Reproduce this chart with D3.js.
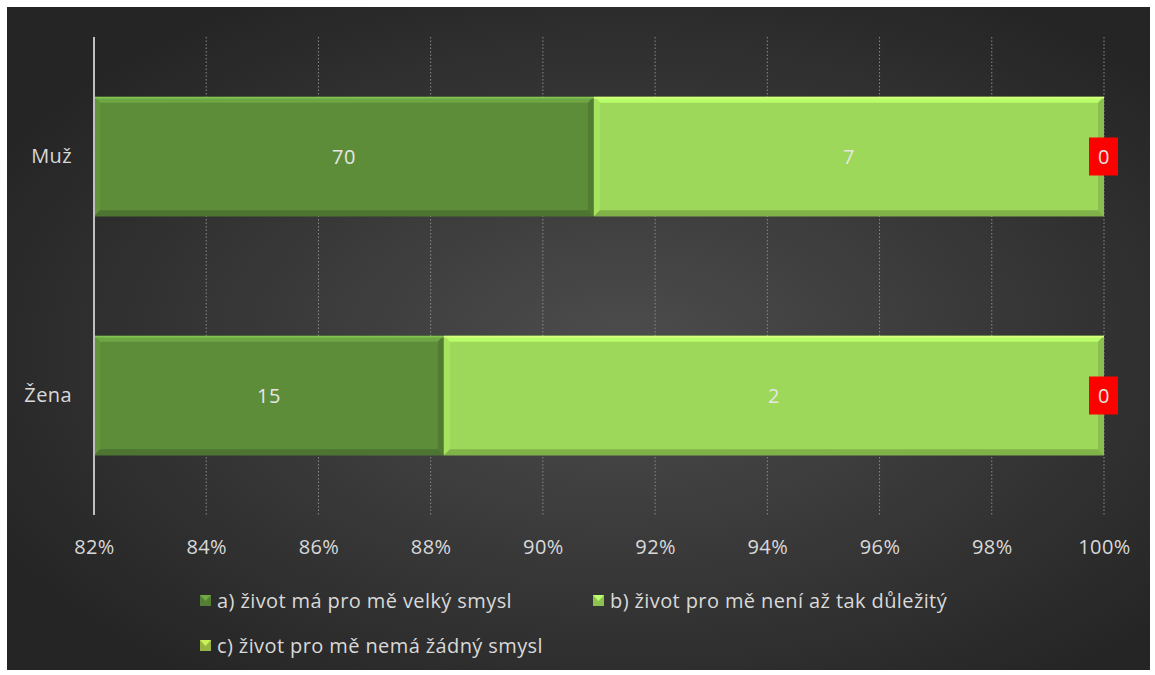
<!DOCTYPE html>
<html>
<head>
<meta charset="utf-8">
<script src="https://cdn.jsdelivr.net/npm/d3@7"></script>
<style>
  html, body { margin: 0; padding: 0; background: #ffffff; }
  svg { display: block; }
  text { font-family: "Open Sans", "Noto Sans", sans-serif; letter-spacing: 0.4px; }
</style>
</head>
<body>
<svg id="chart" width="1155" height="675"></svg>
<script>
// Respondent counts per gender and answer
const categories = ["Muž", "Žena"];
const seriesNames = [
  "a) život má pro mě velký smysl",
  "b) život pro mě není až tak důležitý",
  "c) život pro mě nemá žádný smysl"
];
const seriesA = [70, 15];
const seriesB = [7, 2];
const seriesC = [0, 0];
const seriesColors = ["#5e8d3a", "#9dd85a", "#a9c94b"];
const tickValues = [0.82, 0.84, 0.86, 0.88, 0.90, 0.92, 0.94, 0.96, 0.98, 1.00];

const svg = d3.select("#chart");
const FS = 20;

// panel background with radial glow
const defs = svg.append("defs");
const rg = defs.append("radialGradient").attr("id", "bg")
  .attr("cx", "54%").attr("cy", "52%").attr("r", "62%");
rg.append("stop").attr("offset", "0%").attr("stop-color", "#4d4d4d");
rg.append("stop").attr("offset", "100%").attr("stop-color", "#252525");
svg.append("rect").attr("x", 7).attr("y", 7).attr("width", 1143).attr("height", 663)
  .attr("fill", "url(#bg)");

const margin = { left: 94, right: 1104, top: 37, bottom: 515 };

const x = d3.scaleLinear().domain([0.82, 1.0]).range([margin.left, margin.right]);
const y = d3.scaleBand().domain(categories).range([margin.top, margin.bottom])
  .paddingInner(0.5).paddingOuter(0.25);

// stacked proportions
const rows = categories.map((c, i) => ({ cat: c, vals: [seriesA[i], seriesB[i], seriesC[i]] }));
const segs = [];
rows.forEach(r => {
  const total = d3.sum(r.vals);
  let acc = 0;
  r.vals.forEach((v, k) => {
    const x0 = acc / total; acc += v;
    segs.push({ cat: r.cat, k, v, x0, x1: acc / total });
  });
});

// gridlines
const grid = svg.append("g");
tickValues.slice(1).forEach(t => {
  grid.append("line")
    .attr("x1", x(t)).attr("x2", x(t)).attr("y1", margin.top).attr("y2", margin.bottom)
    .attr("stroke", "#8a8a8a").attr("stroke-width", 1).attr("stroke-dasharray", "1.5,2");
});

// x-axis tick labels
const xAxis = d3.axisBottom(x).tickValues(tickValues).tickSize(0)
  .tickFormat(d => Math.round(d * 100) + "%");
const gx = svg.append("g").attr("transform", `translate(0,${margin.bottom + 19})`).call(xAxis);
gx.select(".domain").remove();
gx.selectAll("text").attr("fill", "#d9d9d9").attr("font-size", FS).attr("dy", "0.85em");

// category labels
const yAxis = d3.axisLeft(y).tickSize(0).tickPadding(22);
const gy = svg.append("g").attr("transform", `translate(${margin.left},0)`).call(yAxis);
gy.select(".domain").remove();
gy.selectAll("text").attr("fill", "#d9d9d9").attr("font-size", FS);

// bars with bevelled edges
const bevel = 6;
const barG = svg.append("g");
segs.filter(s => s.v > 0).forEach(s => {
  const x0 = x(Math.max(s.x0, 0.82)), x1 = x(s.x1);
  const y0 = y(s.cat), y1 = y0 + y.bandwidth();
  const base = d3.color(seriesColors[s.k]);
  const g = barG.append("g");
  g.append("rect").attr("x", x0).attr("y", y0).attr("width", x1 - x0).attr("height", y1 - y0)
    .attr("fill", base);
  const poly = (pts, fill) => g.append("polygon").attr("points", pts.map(p => p.join(",")).join(" ")).attr("fill", fill);
  poly([[x0, y0], [x1, y0], [x1 - bevel, y0 + bevel], [x0 + bevel, y0 + bevel]], base.brighter(0.45));
  poly([[x0, y0], [x0 + bevel, y0 + bevel], [x0 + bevel, y1 - bevel], [x0, y1]], base.brighter(0.15));
  poly([[x1, y0], [x1, y1], [x1 - bevel, y1 - bevel], [x1 - bevel, y0 + bevel]], base.darker(0.35));
  poly([[x0, y1], [x0 + bevel, y1 - bevel], [x1 - bevel, y1 - bevel], [x1, y1]], base.darker(0.55));
  g.append("line").attr("x1", x0).attr("x2", x1).attr("y1", y0 + 1).attr("y2", y0 + 1)
    .attr("stroke", base.brighter(0.9)).attr("stroke-width", 1.5);
  // value label
  svg.append("text").attr("x", (x0 + x1) / 2).attr("y", (y0 + y1) / 2)
    .attr("text-anchor", "middle").attr("dominant-baseline", "central")
    .attr("fill", "#e6e6e6").attr("font-size", FS).text(s.v);
});

// zero-value labels on red boxes
segs.filter(s => s.v === 0).forEach(s => {
  const cx = x(s.x1), cy = y(s.cat) + y.bandwidth() / 2;
  svg.append("rect").attr("x", cx - 15).attr("y", cy - 19).attr("width", 29).attr("height", 38)
    .attr("fill", "#ff0000");
  svg.append("text").attr("x", cx).attr("y", cy).attr("text-anchor", "middle")
    .attr("dominant-baseline", "central").attr("fill", "#e6e6e6").attr("font-size", FS).text(s.v);
});

// vertical axis line
svg.append("line").attr("x1", margin.left).attr("x2", margin.left)
  .attr("y1", margin.top).attr("y2", margin.bottom)
  .attr("stroke", "#bfbfbf").attr("stroke-width", 2);

// legend
const legendPos = [[200, 600], [593, 600], [200, 645]];
seriesNames.forEach((name, k) => {
  const [lx, ly] = legendPos[k];
  const c = d3.color(seriesColors[k]);
  const lg = svg.append("g");
  lg.append("rect").attr("x", lx).attr("y", ly - 5).attr("width", 11).attr("height", 11).attr("fill", c.darker(0.3));
  lg.append("polygon").attr("points", `${lx},${ly - 5} ${lx + 11},${ly - 5} ${lx + 5.5},${ly + 1}`)
    .attr("fill", c.brighter(0.5));
  lg.append("text").attr("x", lx + 17).attr("y", ly).attr("dominant-baseline", "central")
    .attr("fill", "#d9d9d9").attr("font-size", FS).text(name);
});
</script>
</body>
</html>
